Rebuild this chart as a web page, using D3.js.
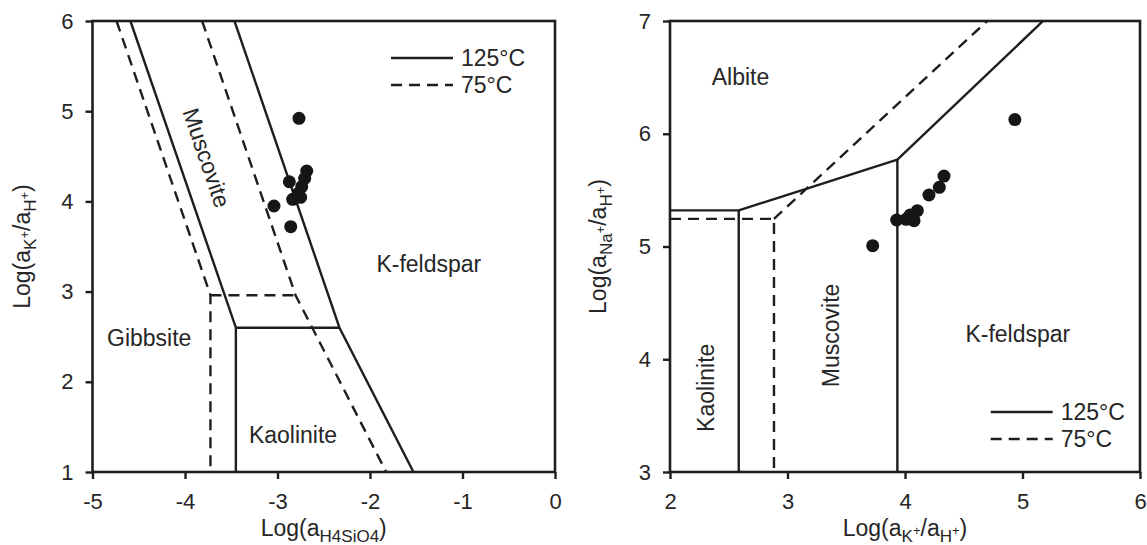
<!DOCTYPE html>
<html>
<head>
<meta charset="utf-8">
<script src="https://cdn.jsdelivr.net/npm/d3@7"></script>
<style>
  html, body { margin: 0; padding: 0; background: #fff; }
  svg { display: block; font-family: "Liberation Sans", Arial, sans-serif; }
</style>
</head>
<body>
<svg id="chart" width="1147" height="545"></svg>
<script>
// ---- Panel A: log(aK+/aH+) vs log(aH4SiO4) ----
const siTicks = [-5, -4, -3, -2, -1, 0];
const kTicksA = [1, 2, 3, 4, 5, 6];

// Phase boundaries at 125 °C (solid), each a polyline of [logSi, logK]
const bounds125A = [
  [[-4.59, 6], [-3.45, 2.6], [-3.45, 1]],
  [[-3.45, 2.6], [-2.33, 2.6]],
  [[-3.465, 6], [-2.33, 2.6], [-1.53, 1]]
];
// Phase boundaries at 75 °C (dashed)
const bounds75A = [
  [[-4.74, 6], [-3.725, 2.96], [-3.725, 1]],
  [[-3.725, 2.96], [-2.805, 2.96]],
  [[-3.815, 6], [-2.805, 2.96], [-1.825, 1]]
];
// Water samples: [logSi, logK]
const samplesA = [
  [-2.768, 4.921], [-2.684, 4.337], [-2.706, 4.256], [-2.872, 4.218],
  [-2.738, 4.163], [-2.775, 4.090], [-2.750, 4.045], [-2.836, 4.023],
  [-3.038, 3.949], [-2.857, 3.720]
];

// ---- Panel B: log(aNa+/aH+) vs log(aK+/aH+) ----
const kTicksB = [2, 3, 4, 5, 6];
const naTicks = [3, 4, 5, 6, 7];

const bounds125B = [
  [[2, 5.32], [2.585, 5.32], [2.585, 3]],
  [[2.585, 5.32], [3.935, 5.77], [3.935, 3]],
  [[3.935, 5.77], [5.175, 7]]
];
const bounds75B = [
  [[2, 5.245], [2.885, 5.245], [2.885, 3]],
  [[2.885, 5.245], [4.70, 7]]
];
const samplesB = [
  [3.725, 5.007], [3.929, 5.235], [4.009, 5.241], [4.077, 5.229],
  [4.043, 5.279], [4.105, 5.318], [4.204, 5.457], [4.292, 5.525],
  [4.332, 5.625], [4.935, 6.126]
];

const legendItems = [
  { label: "125°C", dash: null },
  { label: "75°C", dash: "11,7" }
];

const INK = "#1e1e1e";
const TEXT = "#262626";
const svg = d3.select("#chart");

function drawPanel(cfg) {
  const { left, top, width, height } = cfg;
  const x = d3.scaleLinear().domain(cfg.xDomain).range([left, left + width]);
  const y = d3.scaleLinear().domain(cfg.yDomain).range([top + height, top]);
  const g = svg.append("g");

  const clipId = "clip-" + cfg.id;
  svg.append("clipPath").attr("id", clipId)
    .append("rect").attr("x", left).attr("y", top).attr("width", width).attr("height", height);

  const line = d3.line().x(d => x(d[0])).y(d => y(d[1]));
  const plot = g.append("g").attr("clip-path", `url(#${clipId})`);

  plot.selectAll("path.b125").data(cfg.solid).join("path")
    .attr("class", "b125").attr("d", line)
    .attr("fill", "none").attr("stroke", INK).attr("stroke-width", 2.4);
  plot.selectAll("path.b75").data(cfg.dashed).join("path")
    .attr("class", "b75").attr("d", line)
    .attr("fill", "none").attr("stroke", INK).attr("stroke-width", 2.4)
    .attr("stroke-dasharray", "11,7");

  // Axes
  const xAxis = d3.axisBottom(x).tickValues(cfg.xTicks).tickSize(7).tickSizeOuter(0).tickPadding(14)
    .tickFormat(d3.format("d"));
  const yAxis = d3.axisLeft(y).tickValues(cfg.yTicks).tickSize(7).tickSizeOuter(0).tickPadding(12)
    .tickFormat(d3.format("d"));
  const gx = g.append("g").attr("transform", `translate(0,${top + height})`).call(xAxis);
  const gy = g.append("g").attr("transform", `translate(${left},0)`).call(yAxis);
  [gx, gy].forEach(a => {
    a.select(".domain").remove();
    a.selectAll(".tick line").attr("stroke", INK).attr("stroke-width", 2.4);
    a.selectAll(".tick text").attr("fill", TEXT).style("font-size", "22px")
      .style("font-family", "'Liberation Sans', Arial, sans-serif");
  });
  gx.selectAll(".tick text").text(d => d < 0 ? "-" + Math.abs(d) : d);

  // Frame
  g.append("rect").attr("x", left).attr("y", top).attr("width", width).attr("height", height)
    .attr("fill", "none").attr("stroke", INK).attr("stroke-width", 2.6);

  // Samples
  g.selectAll("circle").data(cfg.samples).join("circle")
    .attr("cx", d => x(d[0])).attr("cy", d => y(d[1])).attr("r", 6.5)
    .attr("fill", "#161616");

  // Field labels
  cfg.fields.forEach(f => {
    const px = x(f.x), py = y(f.y);
    g.append("text")
      .attr("transform", `translate(${px},${py}) rotate(${f.rotate || 0})`)
      .attr("text-anchor", "middle").attr("dy", "0.35em")
      .attr("fill", TEXT).style("font-size", "23px")
      .text(f.text);
  });

  // Legend
  const lg = g.append("g");
  legendItems.forEach((it, i) => {
    const ly = top + cfg.legend.y + i * cfg.legend.step;
    lg.append("line")
      .attr("x1", left + cfg.legend.x).attr("x2", left + cfg.legend.x + 62)
      .attr("y1", ly).attr("y2", ly)
      .attr("stroke", INK).attr("stroke-width", 2.4)
      .attr("stroke-dasharray", it.dash);
    lg.append("text")
      .attr("x", left + cfg.legend.x + 70).attr("y", ly).attr("dy", "0.36em")
      .attr("fill", TEXT).style("font-size", "23px").text(it.label);
  });

  // Axis titles
  const xt = g.append("text")
    .attr("x", left + width / 2).attr("y", cfg.xTitleY)
    .attr("text-anchor", "middle").attr("fill", TEXT);
  writeTitle(xt, cfg.xTitle);
  const yt = g.append("text")
    .attr("transform", `translate(${cfg.yTitleX},${top + height / 2}) rotate(-90)`)
    .attr("text-anchor", "middle").attr("fill", TEXT);
  writeTitle(yt, cfg.yTitle);

  return { x, y };
}

// Title parts: [text, kind] where kind is "n" normal, "s" subscript, "p" superscript on subscript
function writeTitle(sel, parts) {
  let level = 0;
  parts.forEach(([t, kind]) => {
    const target = kind === "n" ? 0 : kind === "s" ? 6 : -1;
    const size = kind === "n" ? 23 : kind === "s" ? 17 : 13;
    const ts = sel.append("tspan").style("font-size", size + "px").text(t);
    if (target !== level) { ts.attr("dy", target - level); level = target; }
  });
  if (level !== 0) sel.append("tspan").attr("dy", -level).text("");
}

const titleSi = [["Log(a", "n"], ["H4SiO4", "s"], [")", "n"]];
const titleK = [["Log(a", "n"], ["K", "s"], ["+", "p"], ["/a", "n"], ["H", "s"], ["+", "p"], [")", "n"]];
const titleNa = [["Log(a", "n"], ["Na", "s"], ["+", "p"], ["/a", "n"], ["H", "s"], ["+", "p"], [")", "n"]];

// Slope -3 boundary in screen space for the rotated label
const wA = 462.5, hA = 451;
const angA = Math.atan2(3 * hA / 5, wA / 5) * 180 / Math.PI;

drawPanel({
  id: "a", left: 92.5, top: 21, width: wA, height: hA,
  xDomain: [-5, 0], yDomain: [1, 6], xTicks: siTicks, yTicks: kTicksA,
  solid: bounds125A, dashed: bounds75A, samples: samplesA,
  fields: [
    { text: "Gibbsite", x: -4.387, y: 2.486 },
    { text: "Kaolinite", x: -2.832, y: 1.413 },
    { text: "Muscovite", x: -3.766, y: 4.483, rotate: angA },
    { text: "K-feldspar", x: -1.364, y: 3.306 }
  ],
  legend: { x: 298.5, y: 37, step: 27 },
  xTitle: titleSi, yTitle: titleK, xTitleY: 536, yTitleX: 30
});

drawPanel({
  id: "b", left: 670, top: 21, width: 470, height: 451,
  xDomain: [2, 6], yDomain: [3, 7], xTicks: kTicksB, yTicks: naTicks,
  solid: bounds125B, dashed: bounds75B, samples: samplesB,
  fields: [
    { text: "Albite", x: 2.6, y: 6.506 },
    { text: "K-feldspar", x: 4.96, y: 4.226 },
    { text: "Kaolinite", x: 2.308, y: 3.747, rotate: -90 },
    { text: "Muscovite", x: 3.366, y: 4.211, rotate: -90 }
  ],
  legend: { x: 320.7, y: 391, step: 27 },
  xTitle: titleK, yTitle: titleNa, xTitleY: 536, yTitleX: 606
});
</script>
</body>
</html>
